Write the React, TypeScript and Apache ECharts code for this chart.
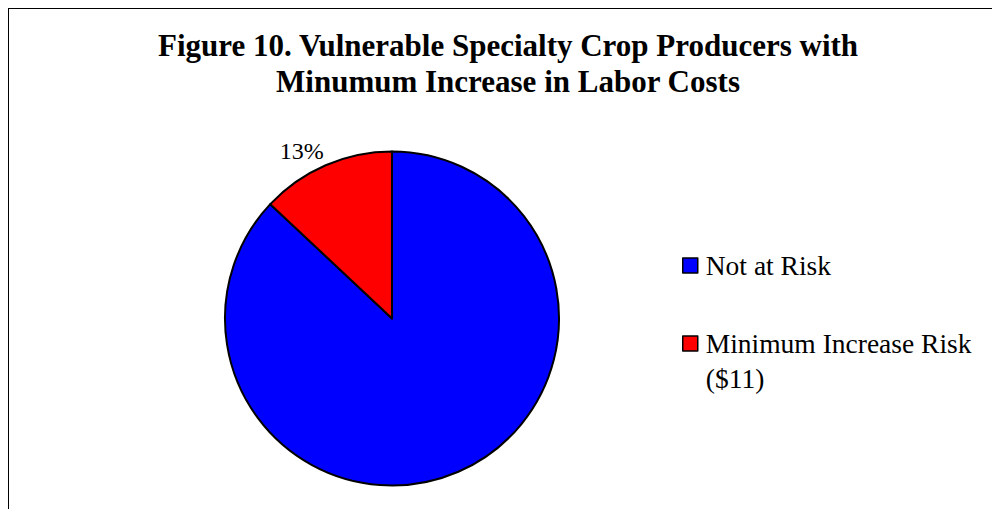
import React, { useEffect, useRef } from "react";
import * as echarts from "echarts";

const titleLines = [
  "Figure 10. Vulnerable Specialty Crop Producers with",
  "Minumum Increase in Labor Costs",
];
const categories = ["Not at Risk", "Minimum Increase Risk ($11)"];
const legendLines = [["Not at Risk"], ["Minimum Increase Risk", "($11)"]];
const values = [87, 13];
const colors = ["#0000FF", "#FF0000"];
const showLabel = [false, true];

const FONT = "'Liberation Serif', 'Times New Roman', serif";
const LEG_LH = 35;

// Pads a multi-line legend label with blank lines above so that its first line
// sits level with the legend icon (ECharts centres the whole text block on it).
function legendText(lines: string[]): string {
  const pad: string[] = [];
  for (let i = 1; i < lines.length; i++) pad.push(" ");
  return [...pad, ...lines].join("\n");
}

export default function App() {
  const ref = useRef<HTMLDivElement>(null);
  useEffect(() => {
    if (!ref.current) return;
    const chart = echarts.init(ref.current, undefined, { renderer: "svg" });
    chart.setOption({
      animation: false,
      backgroundColor: "#ffffff",
      title: {
        text: titleLines.join("\n"),
        left: 499,
        top: 18.5,
        textAlign: "center",
        padding: 0,
        textStyle: {
          fontFamily: FONT,
          fontSize: 31,
          fontWeight: "bold",
          lineHeight: 36,
          color: "#000",
        },
      },
      legend: {
        orient: "vertical",
        left: 673,
        top: 239,
        padding: 0,
        itemGap: 8,
        itemWidth: 15,
        itemHeight: 15,
        icon: "rect",
        itemStyle: { borderColor: "#000", borderWidth: 1.5 },
        textStyle: {
          fontFamily: FONT,
          fontSize: 27.5,
          lineHeight: LEG_LH,
          color: "#000",
          padding: [0, 0, 0, 3],
        },
        data: categories,
        formatter: (name: string) => legendText(legendLines[categories.indexOf(name)]),
      },
      series: [
        {
          type: "pie",
          center: [383, 309.5],
          radius: [0, 167],
          startAngle: 90,
          clockwise: true,
          avoidLabelOverlap: false,
          itemStyle: { borderColor: "#000", borderWidth: 2 },
          emphasis: { disabled: true },
          labelLine: { show: false, length: 15, length2: 0 },
          label: {
            position: "outside",
            formatter: "{d}%",
            fontFamily: FONT,
            fontSize: 24,
            color: "#000",
            distanceToLabelLine: -4,
          },
          data: categories.map((c, i) => ({
            name: c,
            value: values[i],
            itemStyle: { color: colors[i] },
            label: { show: showLabel[i] },
          })),
        },
      ],
    });
    return () => chart.dispose();
  }, []);
  return (
    <div style={{ width: 1000, height: 509, border: "1px solid #000", boxSizing: "content-box" }}>
      <div ref={ref} style={{ width: 1000, height: 509 }} />
    </div>
  );
}
